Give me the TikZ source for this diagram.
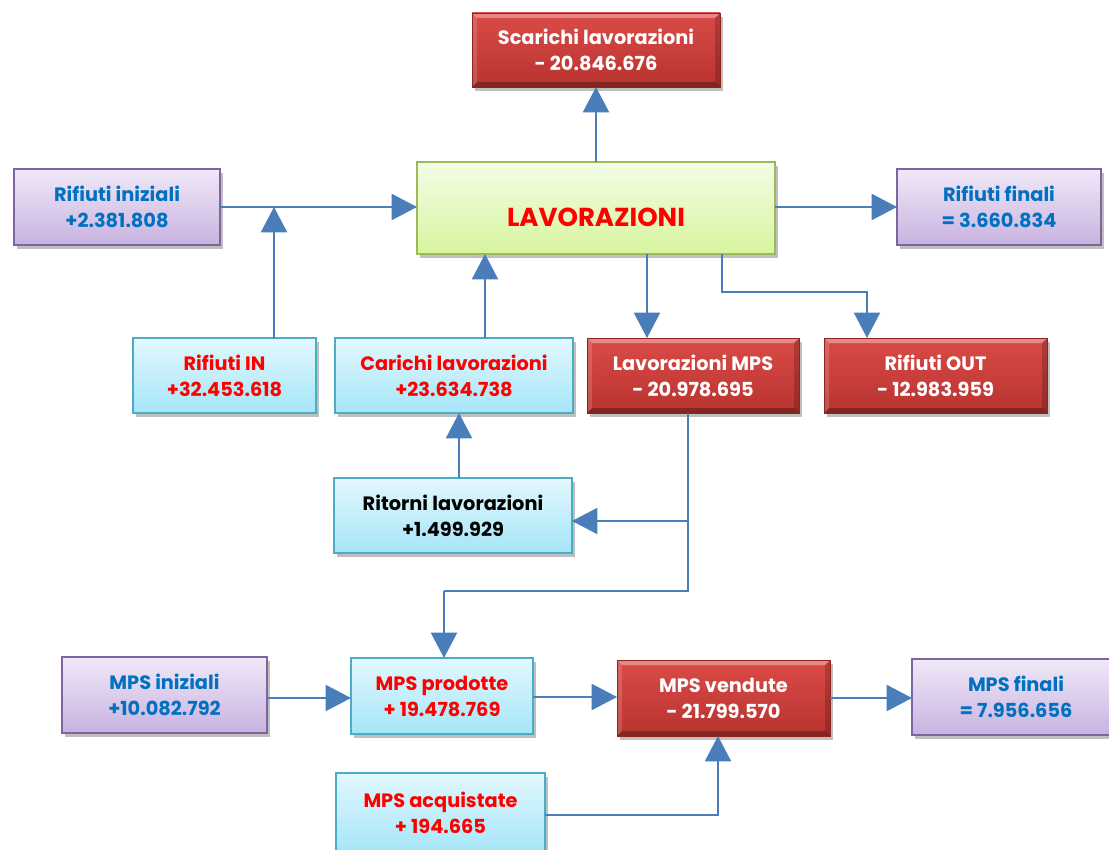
\documentclass[tikz,border=0pt]{standalone}
\usepackage{fontspec}
\setmainfont{Poppins}
\usetikzlibrary{arrows.meta,shadows,calc}
\definecolor{arr}{HTML}{4A7EBB}
\definecolor{txtblue}{HTML}{0070C0}
\definecolor{txtred}{HTML}{FF0000}
\definecolor{purpB}{HTML}{8064A2}
\definecolor{purpT}{HTML}{F0E9F8}
\definecolor{purpL}{HTML}{C8B2E0}
\definecolor{cyanB}{HTML}{4BACC6}
\definecolor{cyanT}{HTML}{E3F8FD}
\definecolor{cyanL}{HTML}{A5E5F8}
\definecolor{greenB}{HTML}{9BBB59}
\definecolor{greenT}{HTML}{F4FCE6}
\definecolor{greenL}{HTML}{D7F59E}
\definecolor{redT}{HTML}{DA4B47}
\definecolor{redL}{HTML}{B8332F}
\definecolor{redB}{HTML}{8E2420}
\tikzset{
  sz/.style 2 args={minimum width=#1*0.75pt, minimum height=#2*0.75pt},
  box/.style={draw, line width=1.3pt, inner sep=0pt, outer sep=0pt, align=center,
    font=\bfseries\fontsize{14.5}{19.5}\selectfont,
    drop shadow={shadow xshift=2.5pt, shadow yshift=-3pt, opacity=0.25, fill=black}},
  purpbox/.style={box, draw=purpB, top color=purpT, bottom color=purpL, text=txtblue},
  cyanbox/.style={box, draw=cyanB, top color=cyanT, bottom color=cyanL, text=txtred},
  greenbox/.style={box, draw=greenB, top color=greenT, bottom color=greenL, text=txtred},
  redbox/.style={box, draw=redB, line width=0.6pt, top color=redT, bottom color=redL, text=white,
    path picture={
      \coordinate (nw) at (path picture bounding box.north west);
      \coordinate (ne) at (path picture bounding box.north east);
      \coordinate (sw) at (path picture bounding box.south west);
      \coordinate (se) at (path picture bounding box.south east);
      \fill[white,opacity=0.35] (nw) -- (ne) -- ($(ne)+(-5,5)$) -- ($(nw)+(5,5)$) -- cycle;
      \fill[black,opacity=0.28] (sw) -- (se) -- ($(se)+(-5,-5)$) -- ($(sw)+(5,-5)$) -- cycle;
      \fill[white,opacity=0.15] (nw) -- (sw) -- ($(sw)+(5,-5)$) -- ($(nw)+(5,5)$) -- cycle;
      \fill[black,opacity=0.18] (ne) -- (se) -- ($(se)+(-5,-5)$) -- ($(ne)+(-5,5)$) -- cycle;
    }},
  conn/.style={draw=arr, line width=1.5pt},
  arrow/.style={conn, -{Triangle[width=19.5pt,length=19pt]}}
}
\begin{document}
\begin{tikzpicture}[x=0.75pt,y=-0.75pt]
\useasboundingbox (0,0) rectangle (1109,849);
\fill[white] (0,0) rectangle (1109,849);

% nodes
\node[redbox, sz={248}{74}] (scar) at (596,50) {Scarichi lavorazioni\\- 20.846.676};
\node[greenbox, sz={358}{92}, font=\bfseries\fontsize{19.5}{24}\selectfont] (lav) at (596,208) {\raisebox{-13.5pt}[0pt][0pt]{LAVORAZIONI}};
\node[purpbox, sz={206}{76}] (rini) at (117,207) {Rifiuti iniziali\\+2.381.808};
\node[purpbox, sz={204}{76}] (rfin) at (999,207) {Rifiuti finali\\= 3.660.834};
\node[cyanbox, sz={183}{75}] (rin) at (224.5,375.5) {Rifiuti IN\\+32.453.618};
\node[cyanbox, sz={238}{75}] (car) at (454,375.5) {Carichi lavorazioni\\+23.634.738};
\node[redbox, sz={212}{75}] (lmps) at (693,375.5) {Lavorazioni MPS\\- 20.978.695};
\node[redbox, sz={223}{75}] (rout) at (935.5,375.5) {Rifiuti OUT\\- 12.983.959};
\node[cyanbox, sz={238}{75}, text=black] (rit) at (453,515.5) {Ritorni lavorazioni\\+1.499.929};
\node[purpbox, sz={205}{76}] (mini) at (164.5,695) {MPS iniziali\\+10.082.792};
\node[cyanbox, sz={182}{76}] (mprod) at (442,696) {MPS prodotte\\+ 19.478.769};
\node[redbox, sz={213}{76}] (mven) at (723.5,698) {MPS vendute\\- 21.799.570};
\node[purpbox, sz={208}{76}] (mfin) at (1016,697) {MPS finali\\= 7.956.656};
\node[cyanbox, sz={209}{80}] (macq) at (440.5,813) {MPS acquistate\\+ 194.665};

% helper coordinates
\coordinate (j1) at (274,207);
\coordinate (x485) at (485,0);
\coordinate (x647) at (647,0);
\coordinate (b1) at (722,292);
\coordinate (b2) at (867,292);
\coordinate (x459) at (459,0);
\coordinate (d1) at (688,521);
\coordinate (d2) at (688,591);
\coordinate (d3) at (444,591);
\coordinate (e1) at (718,815);

% connectors
\draw[arrow] (lav.north) -- (scar.south);
\draw[arrow] (rini.east) -- (rini.east -| lav.west);
\draw[arrow] (rin.north -| j1) -- (j1);
\draw[arrow] (car.north -| x485) -- (lav.south -| x485);
\draw[arrow] (lav.south -| x647) -- (lmps.north -| x647);
\draw[arrow] (lav.south -| b1) -- (b1) -- (b2) -- (rout.north -| b2);
\draw[arrow] (lav.east |- rfin.west) -- (rfin.west);
\draw[arrow] (rit.north -| x459) -- (car.south -| x459);
\draw[conn] (lmps.south -| d1) -- (d2) -- (d3);
\draw[arrow] (d3) -- (mprod.north -| d3);
\draw[arrow] (d1) -- (rit.east |- d1);
\draw[arrow] (mini.east |- 0,698) -- (mprod.west |- 0,698);
\draw[arrow] (mprod.east |- 0,697) -- (mven.west |- 0,697);
\draw[arrow] (mven.east |- 0,698) -- (mfin.west |- 0,698);
\draw[arrow] (macq.east |- e1) -- (e1) -- (mven.south -| e1);
\end{tikzpicture}
\end{document}
